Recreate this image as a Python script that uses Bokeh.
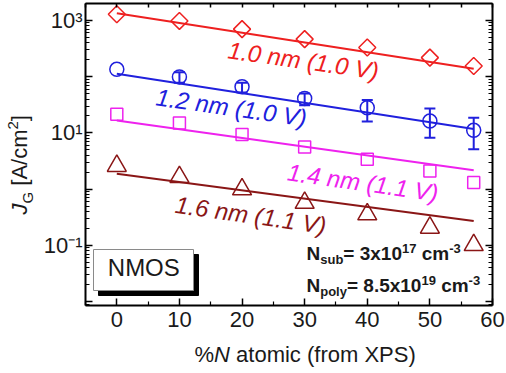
import numpy as np
from bokeh.plotting import figure
from bokeh.models import (Range1d, LogAxis, LinearAxis, FixedTicker, CustomJSTickFormatter,
                          ColumnDataSource, Whisker, TeeHead, Label, BoxAnnotation)
from bokeh.core.properties import value
from bokeh.embed import file_html
from bokeh.resources import INLINE

# ---- data -------------------------------------------------------------
n_pct = [0, 10, 20, 30, 40, 50, 57]          # %N atomic (XPS)

jg_10nm = [1290, 980, 700, 465, 330, 218, 155]
jg_12nm = [135, 99, 66, 41, 28, 16.2, 11.1]
jg_12nm_err_up = [0, 21, 12, 9, 10.5, 11, 7.5]
jg_12nm_err_dn = [0, 21, 14, 10, 12, 8, 6]
jg_14nm = [21.4, 15, 9.4, 5.6, 3.4, 2.1, 1.31]
jg_16nm = [2.58, 1.64, 0.99, 0.57, 0.356, 0.206, 0.101]

# exponential fits (straight lines on the log axis), end points
fit_x = [0, 57]
fit_10nm = [1340, 138]
fit_12nm = [113, 11.7]
fit_14nm = [16.6, 2.16]
fit_16nm = [1.88, 0.27]

series_labels = ["1.0 nm (1.0 V)", "1.2 nm (1.0 V)", "1.4 nm (1.1 V)", "1.6 nm (1.1 V)"]

x_ticks = [0, 10, 20, 30, 40, 50, 60]
y_decades = [-2, -1, 0, 1, 2, 3]

# ---- geometry ---------------------------------------------------------
RED, BLUE, MAG, BROWN = "#ee2020", "#2020dd", "#ee22ee", "#8a1616"
FONT = "Liberation Sans"

W, H = 506, 373
X0, X1 = -5, 60                 # visible axes box, data units
Y0, Y1 = 0.0085, 2000
FL, FR, FT, FB = 85, 492, 3, 305  # axes box on the canvas, px

# the plotting frame spans the whole canvas; the axes are pinned to the box
L0, L1 = np.log10(Y0), np.log10(Y1)
dec_per_px = (L1 - L0) / (FB - FT)
x_per_px = (X1 - X0) / (FR - FL)
XR0, XR1 = X0 - FL * x_per_px, X1 + (W - FR) * x_per_px
YR0, YR1 = 10 ** (L0 - (H - FB) * dec_per_px), 10 ** (L1 + FT * dec_per_px)

p = figure(width=W, height=H, output_backend="svg", toolbar_location=None,
           y_axis_type="log", x_range=Range1d(XR0, XR1), y_range=Range1d(YR0, YR1),
           x_axis_location=None, y_axis_location=None,
           min_border_left=0, min_border_right=0, min_border_top=0, min_border_bottom=0)
p.grid.visible = False
p.outline_line_color = None
p.background_fill_color = "white"
p.border_fill_color = "white"


def px_to_x(px):
    return X0 + (px - FL) * x_per_px


def px_to_y(py):
    return 10 ** (L1 - (py - FT) * dec_per_px)


minor_dec = [k * 10.0 ** e for e in range(-3, 4) for k in range(2, 10)]
minor_dec = [v for v in minor_dec if Y0 <= v <= Y1]
major_dec = [10.0 ** e for e in y_decades]

sup_js = """
const sup = {"-": "\u207b", "0": "\u2070", "1": "\u00b9", "2": "\u00b2", "3": "\u00b3",
             "4": "\u2074", "5": "\u2075", "6": "\u2076", "7": "\u2077", "8": "\u2078", "9": "\u2079"};
const e = Math.round(Math.log10(tick));
if (e % 2 === 0) return "";
return "10" + String(e).split("").map(c => sup[c]).join("");
"""
blank = CustomJSTickFormatter(code="return '';")


def style_axis(ax, tick_in=7, minor_in=4):
    ax.axis_line_width = 2
    ax.axis_line_color = "black"
    ax.major_tick_in = tick_in
    ax.major_tick_out = 0
    ax.minor_tick_in = minor_in
    ax.minor_tick_out = 0
    ax.major_tick_line_width = 1.5
    ax.minor_tick_line_width = 1.2
    ax.major_label_text_font = FONT
    ax.major_label_text_font_size = "22px"
    ax.major_label_text_color = "#1a1a1a"


# bottom axis
xa = LinearAxis(fixed_location=Y0, bounds=(X0, X1),
                ticker=FixedTicker(ticks=x_ticks, minor_ticks=[-5, 5, 15, 25, 35, 45, 55]))
style_axis(xa)
xa.major_label_standoff = 6
p.add_layout(xa, "below")

# left axis
ya = LogAxis(fixed_location=X0, bounds=(Y0, Y1),
             ticker=FixedTicker(ticks=major_dec, minor_ticks=minor_dec),
             formatter=CustomJSTickFormatter(code=sup_js))
style_axis(ya)
ya.major_label_standoff = 3
p.add_layout(ya, "left")

# mirrored top / right axes, ticks only
top = LinearAxis(fixed_location=Y1, bounds=(X0, X1),
                 ticker=FixedTicker(ticks=list(range(-5, 61, 5)), minor_ticks=[]),
                 formatter=blank)
style_axis(top, tick_in=4, minor_in=0)
top.major_label_text_font_size = "0px"
p.add_layout(top, "above")

right = LogAxis(fixed_location=X1, bounds=(Y0, Y1),
                ticker=FixedTicker(ticks=major_dec, minor_ticks=minor_dec), formatter=blank)
style_axis(right)
right.major_label_text_font_size = "0px"
p.add_layout(right, "right")

# ---- fit lines --------------------------------------------------------
for fit, col in [(fit_10nm, RED), (fit_12nm, BLUE), (fit_14nm, MAG), (fit_16nm, BROWN)]:
    p.line(fit_x, fit, line_color=col, line_width=2)

# ---- error bars on the 1.2 nm data -------------------------------------
err_src = ColumnDataSource(dict(
    x=[x for x, u in zip(n_pct, jg_12nm_err_up) if u > 0],
    upper=[v + u for v, u in zip(jg_12nm, jg_12nm_err_up) if u > 0],
    lower=[v - d for v, u, d in zip(jg_12nm, jg_12nm_err_up, jg_12nm_err_dn) if u > 0],
))
p.add_layout(Whisker(source=err_src, base="x", upper="upper", lower="lower", dimension="height",
                     line_color=BLUE, line_width=2,
                     upper_head=TeeHead(size=11, line_color=BLUE, line_width=2),
                     lower_head=TeeHead(size=11, line_color=BLUE, line_width=2)))

# ---- markers ----------------------------------------------------------
p.scatter(n_pct, jg_10nm, marker="square", angle=np.pi / 4, size=12,
          fill_color=None, line_color=RED, line_width=1.5)
p.scatter(n_pct, jg_12nm, marker="circle", size=14,
          fill_color=None, line_color=BLUE, line_width=1.5)
p.scatter(n_pct, jg_14nm, marker="square", size=12,
          fill_color=None, line_color=MAG, line_width=1.5)
p.scatter(n_pct, jg_16nm, marker="triangle", size=19,
          fill_color=None, line_color=BROWN, line_width=1.5)

# ---- series labels along the fits --------------------------------------
lab_src = ColumnDataSource(dict(
    x=[29.8, 18.3, 39.3, 21.4],
    y=[194, 28.3, 1.31, 0.346],
    text=series_labels,
    color=[RED, BLUE, MAG, BROWN],
))
p.text("x", "y", text="text", source=lab_src, angle=-0.14, text_color="color",
       text_font=value(FONT), text_font_style="italic", text_font_size="24px",
       text_align="center", text_baseline="middle")


# ---- rich text: runs laid out in pixels, placed in data units ------------
W_REG = {' ': 278, '%': 889, '(': 333, ')': 333, '-': 333, '.': 278, '/': 278, '=': 584,
         'A': 667, 'G': 778, 'J': 500, 'M': 833, 'N': 722, 'O': 778, 'P': 667, 'S': 667,
         'V': 667, 'X': 667, '[': 278, ']': 278, 'a': 556, 'b': 556, 'c': 500, 'f': 278,
         'i': 222, 'l': 222, 'm': 833, 'n': 556, 'o': 556, 'p': 556, 'r': 333, 's': 500,
         't': 278, 'u': 556, 'x': 500, 'y': 500}
W_BOLD = {' ': 278, '-': 333, '.': 278, '=': 584, 'N': 722, 'b': 611, 'c': 556, 'l': 278,
          'm': 889, 'o': 611, 'p': 611, 's': 556, 'u': 611, 'x': 556, 'y': 556}
MID = 0.3465   # em distance from the alphabetic baseline up to the middle line


def text_w(s, size, bold):
    tbl = W_BOLD if bold else W_REG
    return sum(tbl.get(c, 556) for c in s) * size / 1000.0


def rich(x0, y0, parts, vertical=False, color="#1a1a1a"):
    """x0, y0: start of the common baseline in canvas px; runs are
    (text, size, style, shift-up)."""
    pos = 0.0
    for text, size, style, shift in parts:
        bold = "bold" in style
        lead = len(text) - len(text.lstrip(" "))
        pos += text_w(" " * lead, size, bold)   # leading blanks would be dropped by SVG
        text = text.lstrip(" ")
        up = shift + MID * size
        if vertical:
            sx, sy, ang = x0 - up, y0 - pos, np.pi / 2
        else:
            sx, sy, ang = x0 + pos, y0 - up, 0.0
        p.add_layout(Label(x=px_to_x(sx), y=px_to_y(sy), text=text, angle=ang,
                           text_font=FONT, text_font_size=f"{size}px", text_font_style=style,
                           text_color=color, text_align="left", text_baseline="middle"))
        pos += text_w(text, size, bold)


# axis titles
rich(194, 362, [("%", 22, "normal", 0), ("N", 22, "italic", 0),
                (" atomic (from XPS)", 22, "normal", 0)])
rich(27, 214, [("J", 22, "italic", 0), ("G", 15, "normal", -5), (" [A/cm", 22, "normal", 0),
               ("2", 15, "normal", 9), ("]", 22, "normal", 0)], vertical=True)

# doping annotations
rich(306, 260, [("N", 19, "bold", 0), ("sub", 13, "bold", -4), ("= 3x10", 19, "bold", 0),
                ("17", 13, "bold", 7), (" cm", 19, "bold", 0), ("-3", 13, "bold", 7)])
rich(306, 292, [("N", 19, "bold", 0), ("poly", 13, "bold", -4), ("= 8.5x10", 19, "bold", 0),
                ("19", 13, "bold", 7), (" cm", 19, "bold", 0), ("-3", 13, "bold", 7)])

# NMOS tag with drop shadow
p.add_layout(BoxAnnotation(left=px_to_x(98), right=px_to_x(198), top=px_to_y(254),
                           bottom=px_to_y(295), fill_color="black", fill_alpha=1,
                           line_color="black", line_alpha=1))
p.add_layout(BoxAnnotation(left=px_to_x(93), right=px_to_x(193), top=px_to_y(249),
                           bottom=px_to_y(290), fill_color="white", fill_alpha=1,
                           line_color="#8a8a8a", line_width=1, line_alpha=1))
p.add_layout(Label(x=px_to_x(143.3), y=px_to_y(275 - MID * 24), text="NMOS", text_font=FONT,
                   text_font_size="24px", text_color="#1a1a1a", text_align="center",
                   text_baseline="middle"))

open("out.html", "w").write(file_html(p, INLINE))
